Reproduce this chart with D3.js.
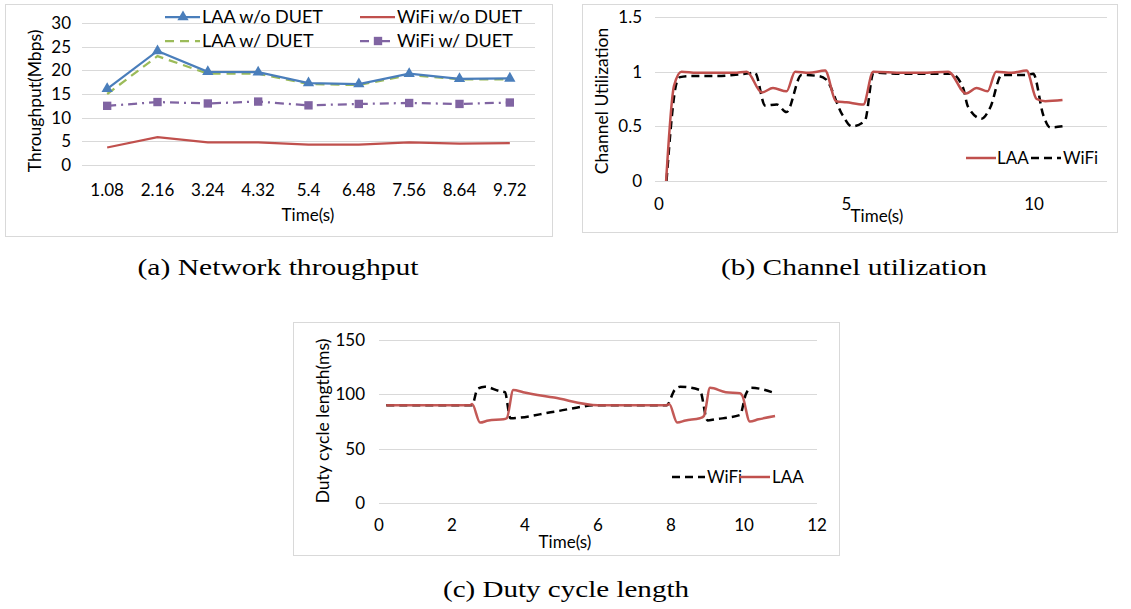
<!DOCTYPE html>
<html><head><meta charset="utf-8">
<script src="https://cdn.jsdelivr.net/npm/d3@7"></script>
<style>
html,body{margin:0;padding:0;background:#fff;}
text{font-family:Lato,"Open Sans",sans-serif;fill:#000;}
.cap{font-family:"Liberation Serif","DejaVu Serif",serif;}
</style></head>
<body><svg id="c" width="1131" height="609"></svg>
<script>
// ---------- (a) Network throughput ----------
const tpCategories = ["1.08","2.16","3.24","4.32","5.4","6.48","7.56","8.64","9.72"];
const tpLaaNoDuet  = [16.1, 24.1, 19.7, 19.6, 17.3, 17.1, 19.3, 18.2, 18.3];
const tpLaaDuet    = [15.0, 23.0, 19.3, 19.3, 17.1, 16.9, 19.0, 18.1, 18.1];
const tpWifiNoDuet = [3.7, 5.9, 4.8, 4.8, 4.3, 4.3, 4.8, 4.5, 4.6];
const tpWifiDuet   = [12.5, 13.3, 13.0, 13.4, 12.6, 12.9, 13.1, 12.9, 13.2];
const tpYTicks = [0,5,10,15,20,25,30];

// ---------- (b) Channel utilization ----------
const cuTimeLAA = [0.19,0.4,0.6,1.0,1.5,2.0,2.34,2.74,3.04,3.4,3.63,4.0,4.43,4.72,5.0,5.45,5.71,6.5,7.0,7.71,8.19,8.47,8.76,8.99,9.4,9.8,10.07,10.3,10.76];
const cuLAA     = [0,0.87,1.0,0.99,0.99,0.99,1.0,0.81,0.85,0.82,1.0,0.99,1.01,0.73,0.72,0.70,1.0,0.99,0.99,1.0,0.8,0.85,0.82,1.0,0.99,1.01,0.75,0.73,0.74];
const cuTimeWiFi = [0.2,0.47,0.56,0.8,1.5,2.29,2.56,2.83,3.14,3.4,3.8,4.25,4.45,4.9,5.14,5.49,5.72,6.5,7.8,8.11,8.24,8.6,8.83,9.14,9.8,9.98,10.25,10.43,10.76];
const cuWiFi     = [0,0.9,0.95,0.96,0.96,0.98,0.99,0.69,0.70,0.63,0.97,0.96,0.93,0.6,0.5,0.55,0.99,0.98,0.98,0.85,0.68,0.57,0.67,0.97,0.97,0.98,0.6,0.49,0.5];
const cuYTicks = [0,0.5,1,1.5];
const cuXTicks = [0,5,10];

// ---------- (c) Duty cycle length ----------
const dcTimeWiFi = [0.2,2.55,2.7,2.9,3.3,3.45,3.6,4.8,6.0,7.88,8.1,8.25,8.79,9.0,9.2,9.89,10.05,10.2,10.85];
const dcWiFi     = [90,90,105,107,103,102,78,84,90,90,104,107,104,76,77,81,100,106,101];
const dcTimeLAA  = [0.2,2.49,2.55,2.77,3.0,3.41,3.5,3.68,3.95,4.8,6.0,7.88,7.95,8.17,8.4,8.79,8.9,9.07,9.5,9.89,9.95,10.16,10.4,10.85];
const dcLAA      = [90,90,91,74,76,77,78,104,102,97,90,90,91,74,76,78,80,106,102,101,99,75,77,80];
const dcYTicks = [0,50,100,150];
const dcXTicks = [0,2,4,6,8,10,12];

const RED="#C0504D", BLUE="#4A7EBB", GREEN="#9BBB59", PURPLE="#8064A2", GRID="#D9D9D9";
const FS = 17;
const svg = d3.select("#c");

function box(x0,y0,x1,y1){
  svg.append("rect").attr("x",x0+0.5).attr("y",y0+0.5).attr("width",x1-x0).attr("height",y1-y0)
    .attr("fill","#fff").attr("stroke","#D9D9D9").attr("stroke-width",1);
}
function grid(g,y,ticks,x0,x1,fmt,labelX){
  ticks.forEach(t=>{
    g.append("line").attr("x1",x0).attr("x2",x1).attr("y1",Math.round(y(t))+0.5).attr("y2",Math.round(y(t))+0.5)
      .attr("stroke",GRID).attr("stroke-width",1);
    g.append("text").attr("x",labelX).attr("y",y(t)).attr("dy","0.35em").attr("text-anchor","end")
      .attr("font-size",FS).text(fmt(t));
  });
}
function ytitle(x,y,txt){
  svg.append("text").attr("transform",`translate(${x},${y}) rotate(-90)`).attr("text-anchor","middle")
    .attr("dy","0.35em").attr("font-size",17.5).text(txt);
}
function caption(x,y,txt,len){
  svg.append("text").attr("class","cap").attr("x",x).attr("y",y).attr("text-anchor","middle")
    .attr("font-size",23).attr("textLength",len).attr("lengthAdjust","spacingAndGlyphs").text(txt);
}

// ===== Panel (a) =====
box(5,4,552,236);
{
  const g = svg.append("g");
  const x = d3.scalePoint().domain(tpCategories).range([82,535]).padding(0.5);
  const y = d3.scaleLinear().domain([0,30]).range([165,23]);
  grid(g,y,tpYTicks,82,535,d=>d,71);
  tpCategories.forEach(c=>{
    g.append("text").attr("x",x(c)).attr("y",190).attr("dy","0.35em").attr("text-anchor","middle").attr("font-size",FS).text(c);
  });
  g.append("text").attr("x",308).attr("y",215).attr("dy","0.35em").attr("text-anchor","middle").attr("font-size",FS).text("Time(s)");
  ytitle(35,101,"Throughput(Mbps)");
  const line = d3.line().x((d,i)=>x(tpCategories[i])).y(d=>y(d));
  g.append("path").attr("d",line(tpWifiNoDuet)).attr("fill","none").attr("stroke",RED).attr("stroke-width",2.25);
  g.append("path").attr("d",line(tpWifiDuet)).attr("fill","none").attr("stroke",PURPLE).attr("stroke-width",2.25).attr("stroke-dasharray","9,5,2,5");
  g.append("path").attr("d",line(tpLaaDuet)).attr("fill","none").attr("stroke",GREEN).attr("stroke-width",2.25).attr("stroke-dasharray","9,6");
  g.append("path").attr("d",line(tpLaaNoDuet)).attr("fill","none").attr("stroke",BLUE).attr("stroke-width",2.25);
  const tri = d3.symbol().type(d3.symbolTriangle).size(55);
  const sq = d3.symbol().type(d3.symbolSquare).size(70);
  tpWifiDuet.forEach((v,i)=>g.append("path").attr("d",sq()).attr("transform",`translate(${x(tpCategories[i])},${y(v)})`).attr("fill",PURPLE));
  tpLaaNoDuet.forEach((v,i)=>g.append("path").attr("d",tri()).attr("transform",`translate(${x(tpCategories[i])},${y(v)})`).attr("fill",BLUE));
  // legend
  const lg = svg.append("g");
  const items = [
    {t:"LAA w/o DUET",c:BLUE,dash:null,m:"tri",x:165,y:17},
    {t:"WiFi w/o DUET",c:RED,dash:null,m:null,x:360,y:17},
    {t:"LAA w/ DUET",c:GREEN,dash:"9,6",m:null,x:165,y:41},
    {t:"WiFi w/ DUET",c:PURPLE,dash:"9,5,2,5",m:"sq",x:360,y:41}
  ];
  items.forEach(it=>{
    lg.append("line").attr("x1",it.x).attr("x2",it.x+35).attr("y1",it.y).attr("y2",it.y).attr("stroke",it.c).attr("stroke-width",2.25).attr("stroke-dasharray",it.dash);
    if(it.m==="tri") lg.append("path").attr("d",tri()).attr("transform",`translate(${it.x+18},${it.y})`).attr("fill",it.c);
    if(it.m==="sq") lg.append("path").attr("d",sq()).attr("transform",`translate(${it.x+18},${it.y})`).attr("fill",it.c);
    lg.append("text").attr("x",it.x+37).attr("y",it.y).attr("dy","0.35em").attr("font-size",18).text(it.t);
  });
}
caption(278,275,"(a) Network throughput",281);

// ===== Panel (b) =====
box(582,4,1117,232);
{
  const g = svg.append("g");
  const x = d3.scaleLinear().domain([0,12]).range([659,1109]);
  const y = d3.scaleLinear().domain([0,1.5]).range([181,17]);
  grid(g,y,cuYTicks,655,1107,d=>d,642);
  cuXTicks.forEach(t=>{
    g.append("text").attr("x",x(t)).attr("y",204).attr("dy","0.35em").attr("text-anchor","middle").attr("font-size",FS).text(t);
  });
  g.append("text").attr("x",877).attr("y",216).attr("dy","0.35em").attr("text-anchor","middle").attr("font-size",FS).text("Time(s)");
  ytitle(602,101,"Channel Utilization");
  const line = d3.line().curve(d3.curveMonotoneX).x(d=>x(d[0])).y(d=>y(d[1]));
  g.append("path").attr("d",line(d3.zip(cuTimeWiFi,cuWiFi))).attr("fill","none").attr("stroke","#000").attr("stroke-width",2.5).attr("stroke-dasharray","8,5");
  g.append("path").attr("d",line(d3.zip(cuTimeLAA,cuLAA))).attr("fill","none").attr("stroke",RED).attr("stroke-width",2.5);
  const lg = svg.append("g");
  lg.append("line").attr("x1",966).attr("x2",996).attr("y1",158).attr("y2",158).attr("stroke",RED).attr("stroke-width",2.5);
  lg.append("text").attr("x",997).attr("y",158).attr("dy","0.35em").attr("font-size",FS).text("LAA");
  lg.append("line").attr("x1",1031).attr("x2",1061).attr("y1",158).attr("y2",158).attr("stroke","#000").attr("stroke-width",2.5).attr("stroke-dasharray","8,5");
  lg.append("text").attr("x",1063).attr("y",158).attr("dy","0.35em").attr("font-size",FS).text("WiFi");
}
caption(854,275,"(b) Channel utilization",266);

// ===== Panel (c) =====
box(293,322,839,555);
{
  const g = svg.append("g");
  const x = d3.scaleLinear().domain([0,12]).range([379,817]);
  const y = d3.scaleLinear().domain([0,150]).range([503,340]);
  grid(g,y,dcYTicks,379,817,d=>d,365);
  dcXTicks.forEach(t=>{
    g.append("text").attr("x",x(t)).attr("y",525).attr("dy","0.35em").attr("text-anchor","middle").attr("font-size",FS).text(t);
  });
  g.append("text").attr("x",565).attr("y",542).attr("dy","0.35em").attr("text-anchor","middle").attr("font-size",FS).text("Time(s)");
  ytitle(323,421,"Duty cycle length(ms)");
  const line = d3.line().curve(d3.curveMonotoneX).x(d=>x(d[0])).y(d=>y(d[1]));
  g.append("path").attr("d",line(d3.zip(dcTimeWiFi,dcWiFi))).attr("fill","none").attr("stroke","#000").attr("stroke-width",2.5).attr("stroke-dasharray","8,5");
  g.append("path").attr("d",line(d3.zip(dcTimeLAA,dcLAA))).attr("fill","none").attr("stroke",RED).attr("stroke-width",2.5).attr("stroke-opacity",0.95);
  const lg = svg.append("g");
  lg.append("line").attr("x1",672).attr("x2",705).attr("y1",477).attr("y2",477).attr("stroke","#000").attr("stroke-width",2.5).attr("stroke-dasharray","8,5");
  lg.append("text").attr("x",707).attr("y",477).attr("dy","0.35em").attr("font-size",FS).text("WiFi");
  lg.append("line").attr("x1",740).attr("x2",770).attr("y1",477).attr("y2",477).attr("stroke",RED).attr("stroke-width",2.5);
  lg.append("text").attr("x",772).attr("y",477).attr("dy","0.35em").attr("font-size",FS).text("LAA");
}
caption(566,597,"(c) Duty cycle length",246);
</script></body></html>
